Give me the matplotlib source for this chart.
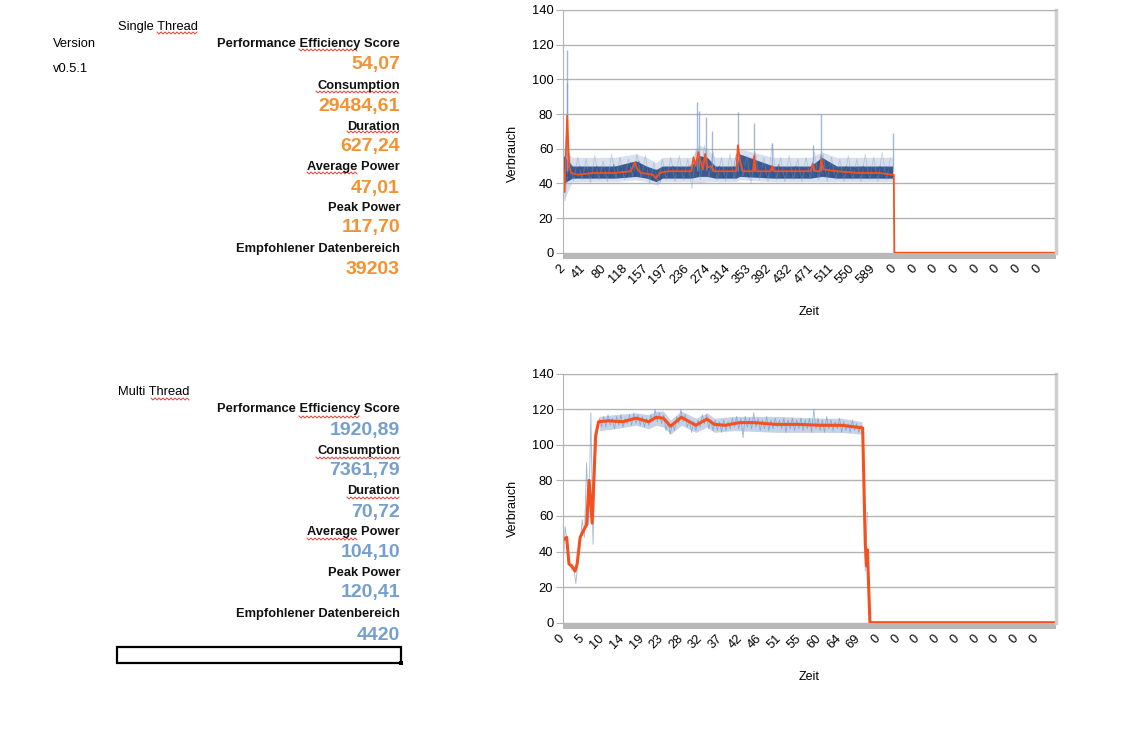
import numpy as np
import matplotlib.pyplot as plt
from matplotlib.patches import Rectangle

plt.rcParams['font.family'] = ['Liberation Sans', 'DejaVu Sans']

# ---- data ----
single_labels = ['Performance Efficiency Score', 'Consumption', 'Duration',
                 'Average Power', 'Peak Power', 'Empfohlener Datenbereich']
single_values = ['54,07', '29484,61', '627,24', '47,01', '117,70', '39203']
multi_values = ['1920,89', '7361,79', '70,72', '104,10', '120,41', '4420']

# single thread: x tick labels (category axis, one label every ~39 rows)
st_xlabels = ['2', '41', '80', '118', '157', '197', '236', '274', '314', '353', '392',
              '432', '471', '511', '550', '589'] + ['0'] * 8
# dark core of the raw readings, one value every 8 s starting at 2 s
st_core = [52, 44, 49, 43, 50, 44, 48, 43, 50, 44, 49, 43, 51, 45, 49, 43, 52, 44, 53, 45,
           49, 42, 48, 41, 49, 44, 50, 45, 49, 44, 50, 52, 45, 55, 46, 51, 44, 50, 43, 49,
           44, 57, 45, 50, 43, 55, 44, 49, 43, 50, 44, 51, 43, 49, 44, 50, 43, 49, 44, 52,
           45, 56, 44, 50, 43, 49, 44, 50, 43, 49, 44, 50, 43, 49, 44, 50, 43, 49, 44]
# lighter outer readings, one value every 8 s starting at 6 s
st_outer = [30, 57, 41, 55, 42, 54, 40, 56, 42, 53, 41, 57, 43, 55, 42, 54, 44, 57, 43, 56,
            40, 52, 39, 54, 42, 55, 41, 56, 42, 54, 37, 60, 42, 62, 43, 58, 42, 55, 41, 57,
            42, 60, 44, 56, 40, 58, 42, 55, 41, 63, 42, 55, 41, 56, 42, 54, 41, 55, 43, 58,
            42, 57, 41, 55, 42, 54, 41, 56, 42, 54, 41, 57, 42, 55, 41, 58, 42, 55]
# envelope of the dense band of readings
st_band_t = [3, 20, 60, 100, 140, 160, 178, 190, 245, 260, 275, 290, 330, 336, 400, 470,
             492, 520, 600, 626]
st_core_lo = [40, 43, 43, 43, 44, 43, 41, 43, 43, 44, 44, 43, 43, 44, 43, 43, 44, 43, 43, 43]
st_core_hi = [56, 50, 50, 50, 53, 50, 48, 50, 50, 56, 55, 50, 50, 57, 50, 50, 55, 50, 50, 50]
st_outer_lo = [30, 41, 41, 41, 42, 41, 39, 41, 41, 40, 41, 41, 41, 42, 41, 41, 41, 41, 41, 41]
st_outer_hi = [60, 55, 55, 55, 57, 55, 52, 55, 55, 62, 60, 55, 55, 60, 55, 55, 58, 55, 55, 55]
st_spike_t = [9, 10, 255, 259, 273, 284, 333, 364, 398, 475, 491, 627]
st_spike_v = [98, 117, 87, 82, 78, 70, 81, 75, 63, 62, 80, 69]
st_avg_t = [2, 5, 8, 10, 12, 14, 17, 30, 60, 100, 130, 138, 143, 150, 172, 178, 185, 200,
            245, 249, 253, 258, 263, 267, 271, 275, 282, 288, 330, 333, 337, 342, 362, 364,
            367, 395, 398, 401, 470, 475, 479, 488, 491, 495, 520, 560, 600, 624, 628, 629, 935]
st_avg_v = [48, 35, 62, 79, 62, 50, 46, 45, 46, 46, 47, 52, 48, 46, 45, 43, 46, 47,
            47, 55, 50, 58, 52, 48, 57, 49, 50, 47, 47, 62, 53, 47, 47, 56,
            47, 47, 50, 47, 47, 51, 47, 47, 54, 48, 47, 46, 46, 45, 45, 0, 0]

# multi thread: x tick labels
mt_xlabels = ['0', '5', '10', '14', '19', '23', '28', '32', '37', '42', '46', '51', '55',
              '60', '64', '69'] + ['0'] * 9
# raw readings every 0.5 s
mt_raw = [30, 54, 45, 33, 30, 31, 22, 35, 45, 58, 48, 90, 55, 118, 44, 90, 108, 115,
          110, 116, 110, 117, 111, 115, 109, 116, 111, 117, 110, 115, 112, 117, 111, 118,
          112, 117, 111, 116, 110, 115, 111, 117, 113, 120, 113, 118, 112, 117, 108, 113,
          106, 112, 108, 116, 112, 120, 113, 117, 110, 114, 107, 113, 108, 114, 110, 117,
          112, 117, 109, 114, 108, 114, 108, 113, 107, 114, 108, 113, 109, 115, 110, 116,
          109, 115, 104, 116, 110, 115, 109, 118, 110, 115, 108, 114, 109, 116, 108, 114,
          109, 115, 110, 114, 109, 115, 107, 114, 109, 115, 108, 114, 109, 115, 108, 114,
          109, 115, 107, 120, 109, 115, 108, 114, 107, 116, 109, 114, 108, 113, 109, 115,
          107, 113, 108, 112, 107, 114, 108, 112, 107, 111, 107, 29, 62]
mt_band_t = [8.5, 12, 17, 20, 21.7, 23.4, 25.1, 27.6, 31, 33.6, 35.3, 40, 50, 60, 65, 69.8]
mt_band_lo = [108, 109, 111, 109, 111, 110, 106, 111, 107, 110, 107, 108, 107, 107, 107, 106]
mt_band_hi = [116, 117, 118, 117, 119, 119, 114, 119, 115, 118, 115, 116, 116, 115, 115, 113]
mt_avg_t = [0.3, 0.85, 1.4, 2.0, 2.8, 3.3, 4.0, 4.8, 5.5, 6.1, 6.8, 7.6, 8.3, 10.6, 14, 17,
            20, 21.7, 23.4, 25.1, 27.6, 31, 33.6, 35.3, 37.8, 41.2, 44.6, 49.7, 55, 60, 65,
            69.9, 70.5, 70.8, 71.0, 71.6, 115]
mt_avg_v = [47, 48, 33, 32, 29, 33, 48, 52, 55, 80, 56, 105, 113, 113.5, 113, 115,
            113, 115.5, 115, 110.5, 115.5, 111, 114.5, 111.5, 111, 112.5, 112.5, 111.5,
            111.5, 111, 111, 109.5, 45, 32, 41, 0, 0]

W, H = 1144, 737
ORANGE_TXT = '#f39232'
BLUE_TXT = '#759fcd'
LINE_RED = '#f4511e'
GRID = '#b3b3b3'

fig = plt.figure(figsize=(W / 100, H / 100), dpi=100)


def px(x, y):
    return x / W, 1 - y / H


def wavy(x0, x1, y):
    xs = np.arange(x0, x1 + 0.1, 2.0)
    ys = y + np.where(np.arange(len(xs)) % 2 == 0, -1.0, 1.0)
    fig.add_artist(plt.Line2D(xs / W, 1 - ys / H, color='#e0413a', lw=0.7))


def stats_block(title, title_y, label_y, value_y, values, color):
    fig.text(*px(118, title_y), title, ha='left', va='center', fontsize=9.3)
    for lab, ly, val, vy in zip(single_labels, label_y, values, value_y):
        fig.text(*px(400, ly), lab, ha='right', va='center', fontsize=9.3,
                 fontweight='bold', color='#111111')
        fig.text(*px(400, vy), val, ha='right', va='center', fontsize=14,
                 fontweight='bold', color=color)


stats_block('Single Thread', 27, [44, 86, 127, 167, 208, 249], [65, 106, 147, 188, 228, 269],
            single_values, ORANGE_TXT)
fig.text(*px(53, 44), 'Version', ha='left', va='center', fontsize=9.3)
fig.text(*px(53, 69), 'v0.5.1', ha='left', va='center', fontsize=9.3)
stats_block('Multi Thread', 392, [409, 451, 491, 532, 573, 614], [430, 471, 512, 553, 593, 635],
            multi_values, BLUE_TXT)

# spell-check underlines
for x0, x1, y in [(157, 198, 33), (299, 358, 50), (316, 399, 92), (347, 399, 132), (307, 358, 173),
                  (151, 190, 399), (299, 360, 417), (316, 400, 458), (347, 400, 498), (307, 358, 539)]:
    wavy(x0, x1, y)

# selected cell box
fig.add_artist(Rectangle(px(117, 663), 284 / W, 16 / H, fill=False, lw=1.6, ec='black'))
fig.add_artist(Rectangle(px(399, 665), 4 / W, 4 / H, fc='black', ec='none'))


def style_axes(ax, ticks, labels, xmin, xmax, ylab_pos):
    ax.set_xlim(xmin, xmax)
    ax.set_ylim(0, 140)
    ax.set_yticks(range(0, 141, 20))
    ax.grid(axis='y', color=GRID, lw=1)
    ax.set_axisbelow(True)
    ax.spines['bottom'].set_visible(False)
    ax.spines['left'].set_color(GRID)
    ax.spines['top'].set_color(GRID)
    ax.spines['right'].set_color('#cfcfcf')
    ax.spines['right'].set_linewidth(2.5)
    ax.tick_params(axis='y', length=5, color=GRID, labelsize=9.3, pad=2)
    ax.tick_params(axis='x', length=0, pad=10, labelsize=9.3)
    ax.set_xticks(ticks)
    ax.set_xticklabels(labels, rotation=45, ha='right', va='center', rotation_mode='anchor')
    ax.add_patch(Rectangle((0, -0.025), 1, 0.025, transform=ax.transAxes,
                           fc='#b8b8b8', ec='none', clip_on=False))
    ax.set_ylabel('Verbrauch', fontsize=9)
    ax.yaxis.set_label_coords(-0.09, ylab_pos)
    ax.set_xlabel('Zeit', fontsize=9, labelpad=14)


# single thread chart
ax1 = fig.add_axes([563 / W, 1 - 252.7 / H, 493 / W, 242.7 / H])
core_t = 2 + 8 * np.arange(len(st_core))
outer_t = 6 + 8 * np.arange(len(st_outer))
ax1.fill_between(st_band_t, st_outer_lo, st_outer_hi, color='#a9bcdb', alpha=0.45, lw=0)
ax1.plot(outer_t, st_outer, color='#7d9bc8', lw=0.6, alpha=0.4)
ax1.vlines(st_spike_t, 47, st_spike_v, color='#7d9bc8', lw=1.0, alpha=0.7)
ax1.fill_between(st_band_t, st_core_lo, st_core_hi, color='#1f437f', alpha=0.85, lw=0)
ax1.plot(core_t, st_core, color='#1d3f78', lw=0.6, alpha=0.4)
ax1.plot(st_avg_t, st_avg_v, color=LINE_RED, lw=1.3)
style_axes(ax1, 2 + 39.2 * np.arange(len(st_xlabels)), st_xlabels, 2, 935, 0.41)

# multi thread chart
ax2 = fig.add_axes([563 / W, 1 - 622.7 / H, 493 / W, 249 / H])
raw_t = 0.5 * np.arange(len(mt_raw))
ax2.fill_between(mt_band_t, mt_band_lo, mt_band_hi, color='#8fa9d0', alpha=0.5, lw=0)
ax2.plot(raw_t, mt_raw, color='#7597c6', lw=0.6, alpha=0.7)
ax2.plot(mt_avg_t, mt_avg_v, color=LINE_RED, lw=2.2)
style_axes(ax2, 4.6 * np.arange(len(mt_xlabels)), mt_xlabels, 0, 115, 0.46)

fig.savefig('out.png', dpi=100)
